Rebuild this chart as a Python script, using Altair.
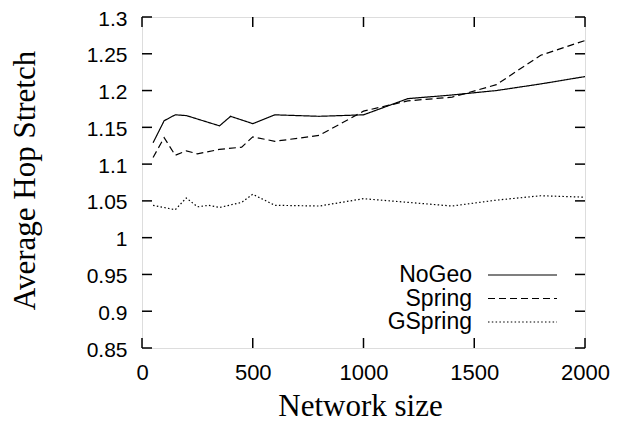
import altair as alt
import pandas as pd

# ---- data ----
nogeo_x = [50, 100, 150, 200, 350, 400, 500, 600, 800, 1000, 1200, 1400, 1600, 1800, 2000]
nogeo_y = [1.129, 1.159, 1.167, 1.166, 1.152, 1.165, 1.155, 1.167, 1.165, 1.167, 1.189, 1.194, 1.200, 1.209, 1.219]

spring_x = [50, 100, 150, 200, 250, 350, 450, 500, 600, 800, 1000, 1200, 1400, 1600, 1800, 2000]
spring_y = [1.109, 1.136, 1.112, 1.118, 1.114, 1.120, 1.123, 1.137, 1.131, 1.139, 1.172, 1.186, 1.191, 1.208, 1.248, 1.268]

gspring_x = [50, 150, 200, 250, 300, 350, 450, 500, 600, 800, 1000, 1200, 1400, 1600, 1800, 2000]
gspring_y = [1.044, 1.038, 1.054, 1.042, 1.044, 1.041, 1.048, 1.059, 1.044, 1.043, 1.053, 1.048, 1.043, 1.051, 1.057, 1.055]

series_names = ["NoGeo", "Spring", "GSpring"]
x_ticks = [0, 500, 1000, 1500, 2000]
y_ticks = [0.85, 0.9, 0.95, 1.0, 1.05, 1.1, 1.15, 1.2, 1.25, 1.3]

rows = []
for name, xs, ys in zip(series_names, [nogeo_x, spring_x, gspring_x], [nogeo_y, spring_y, gspring_y]):
    for i, (a, b) in enumerate(zip(xs, ys)):
        rows.append({"series": name, "size": a, "stretch": b, "order": i})
df = pd.DataFrame(rows)
xt = pd.DataFrame({"v": x_ticks})
yt = pd.DataFrame({"v": y_ticks})
leg = pd.DataFrame({"series": series_names})

W, H = 443, 331
TICK = 10
SANS = "Liberation Sans"
SERIF = "Liberation Serif"

xscale = alt.Scale(domain=[0, 2000], nice=False, zero=False)
yscale = alt.Scale(domain=[0.85, 1.3], nice=False, zero=False)
dash = alt.Scale(domain=series_names, range=[[1, 0], [7, 4], [1.5, 2.3]])

xaxis = alt.Axis(title="Network size", values=x_ticks, ticks=False, tickSize=0, domain=False,
                 grid=False, labelFont=SANS, labelFontSize=22, labelColor="black",
                 labelPadding=14, labelBaseline="top", labelOverlap=False, labelFlush=False,
                 format="d",
                 titleFont=SERIF, titleFontSize=31, titleFontWeight="normal", titleColor="black",
                 titleX=218, titleY=67, titleBaseline="alphabetic")
yaxis = alt.Axis(title="Average Hop Stretch", values=y_ticks, ticks=False, tickSize=0, domain=False,
                 grid=False, labelFont=SANS, labelFontSize=21, labelColor="black",
                 labelPadding=15, format="~g", labelOverlap=False, labelFlush=False, labelOffset=2,
                 titleFont=SERIF, titleFontSize=31, titleFontWeight="normal", titleColor="black",
                 titleX=-117, titleY=163, titleBaseline="middle", titleAngle=-90)

lines = alt.Chart(df).mark_line(color="black", strokeWidth=1.2).encode(
    x=alt.X("size:Q", scale=xscale, axis=xaxis),
    y=alt.Y("stretch:Q", scale=yscale, axis=yaxis),
    strokeDash=alt.StrokeDash("series:N", scale=dash, legend=None),
    detail="series:N",
    order="order:Q",
)

# inward frame ticks (gnuplot style, mirrored)
xb = alt.Chart(xt).mark_rule(color="black", strokeWidth=1.5).encode(
    x=alt.X("v:Q", scale=xscale, axis=xaxis), y=alt.value(H), y2=alt.value(H - TICK))
xtp = alt.Chart(xt).mark_rule(color="black", strokeWidth=1.5).encode(
    x=alt.X("v:Q", scale=xscale, axis=xaxis), y=alt.value(0), y2=alt.value(TICK))
yl = alt.Chart(yt).mark_rule(color="black", strokeWidth=1.5).encode(
    y=alt.Y("v:Q", scale=yscale, axis=yaxis), x=alt.value(0), x2=alt.value(TICK))
yr = alt.Chart(yt).mark_rule(color="black", strokeWidth=1.5).encode(
    y=alt.Y("v:Q", scale=yscale, axis=yaxis), x=alt.value(W - TICK), x2=alt.value(W))

# legend, gnuplot style: label then line sample
legy = alt.Y("series:N", scale=alt.Scale(type="point", domain=series_names, range=[258, 305], padding=0), axis=None)
leg_text = alt.Chart(leg).mark_text(align="right", baseline="middle", font=SANS, fontSize=23, color="black").encode(
    y=legy, x=alt.value(330), text="series:N")
leg_line = alt.Chart(leg).mark_rule(color="black", strokeWidth=1.2).encode(
    y=legy, x=alt.value(346), x2=alt.value(415),
    strokeDash=alt.StrokeDash("series:N", scale=dash, legend=None))

base = alt.layer(lines, xb, xtp, yl, yr).resolve_scale(y="shared")
legend_layer = alt.layer(leg_text, leg_line)

chart = alt.layer(base, legend_layer).resolve_scale(y="independent").properties(
    width=W, height=H,
    autosize=alt.AutoSizeParams(type="none"),
    padding={"left": 134, "top": 9, "right": 30, "bottom": 75},
).configure_view(stroke="black", strokeWidth=2).configure(background="white")

chart.save("out.html", embed_options={"renderer": "svg", "actions": False})
